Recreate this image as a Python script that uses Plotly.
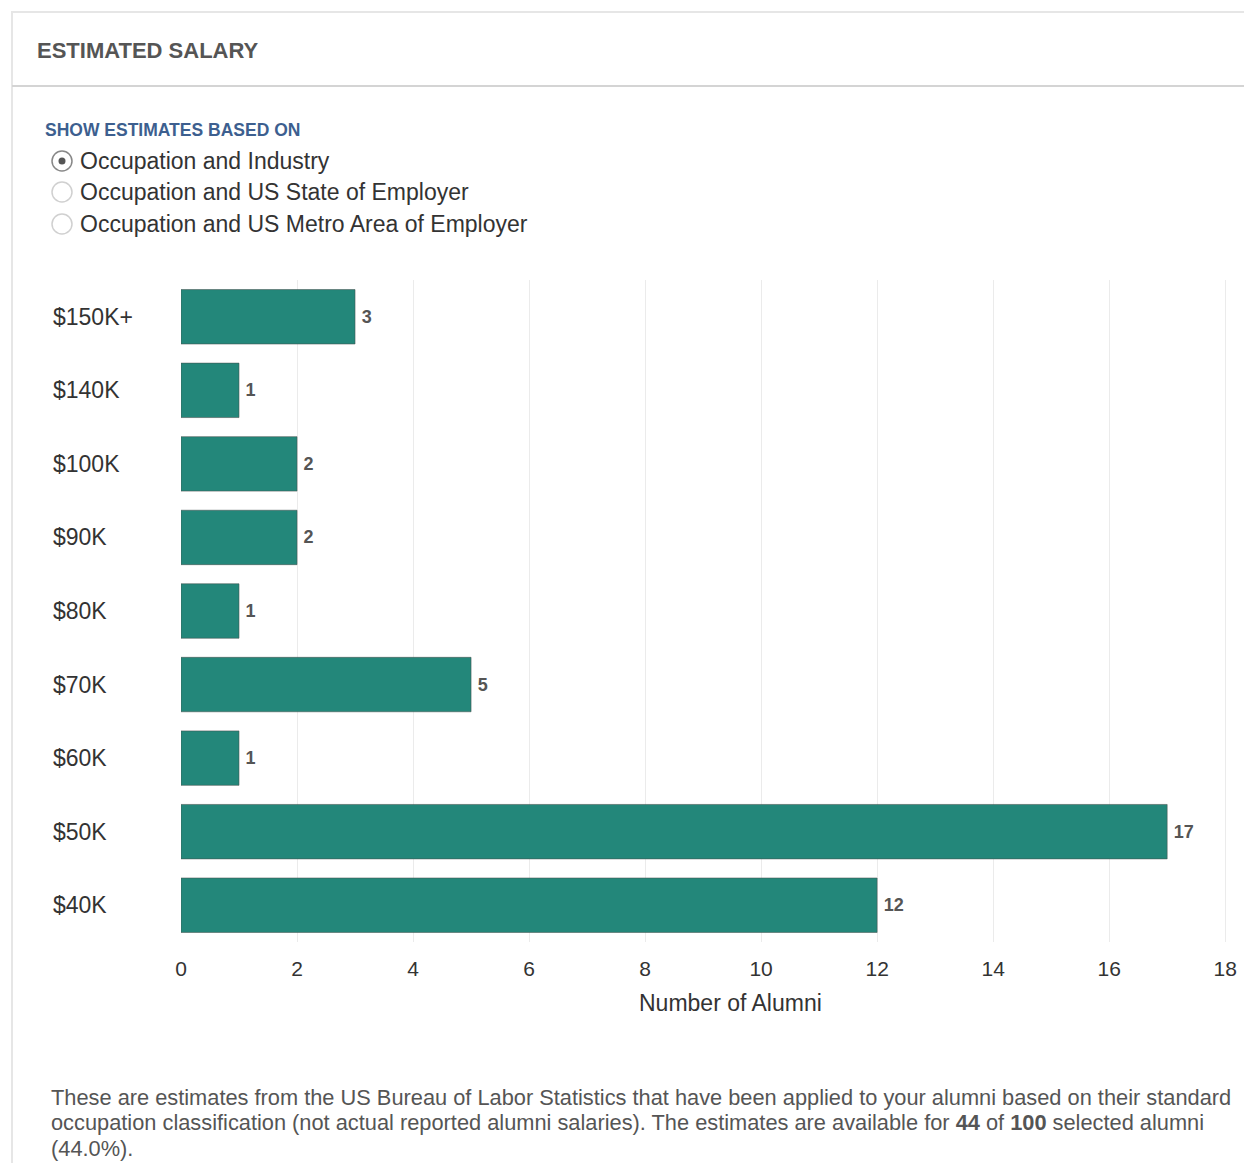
import plotly.graph_objects as go

categories = ["$150K+", "$140K", "$100K", "$90K", "$80K", "$70K", "$60K", "$50K", "$40K"]
alumni_counts = [3, 1, 2, 2, 1, 5, 1, 17, 12]
x_ticks = [0, 2, 4, 6, 8, 10, 12, 14, 16, 18]
radio_options = ["Occupation and Industry", "Occupation and US State of Employer",
                 "Occupation and US Metro Area of Employer"]
footnote_lines = [
    "These are estimates from the US Bureau of Labor Statistics that have been applied to your alumni based on their standard",
    "occupation classification (not actual reported alumni salaries). The estimates are available for <b>44</b> of <b>100</b> selected alumni",
    "(44.0%).",
]

W, H = 1244, 1163
L, R, T, B = 181, 1242, 280, 942
FONT = "Liberation Sans, Arial, sans-serif"


def px(x):
    return (x - L) / (R - L)


def py(y):
    return (B - y) / (B - T)


fig = go.Figure(go.Bar(
    x=alumni_counts, y=categories, orientation="h",
    marker=dict(color="#23877a", line=dict(color="rgba(70,80,78,0.55)", width=1)),
    text=alumni_counts, texttemplate="\u2009%{text}", textposition="outside", cliponaxis=False,
    textfont=dict(family=FONT, size=18, color="#555", weight="bold"),
    hoverinfo="x+y",
))

shapes = [
    dict(type="rect", xref="paper", yref="paper", x0=px(12), x1=px(1270), y0=py(12), y1=py(1190),
         line=dict(color="#e6e6e6", width=2), fillcolor="rgba(0,0,0,0)", layer="below"),
    dict(type="line", xref="paper", yref="paper", x0=px(12), x1=px(1250), y0=py(86), y1=py(86),
         line=dict(color="#d4d4d4", width=2)),
]
radio_y = [161, 192, 224]
annotations = [
    dict(text="<b>ESTIMATED SALARY</b>", xref="paper", yref="paper", x=px(35), y=py(51),
         xanchor="left", yanchor="middle", showarrow=False,
         font=dict(family=FONT, size=22, color="#555")),
    dict(text="<b>SHOW ESTIMATES BASED ON</b>", xref="paper", yref="paper", x=px(43), y=py(130),
         xanchor="left", yanchor="middle", showarrow=False,
         font=dict(family=FONT, size=17.5, color="#3d5f8f")),
]
for i, (opt, yy) in enumerate(zip(radio_options, radio_y)):
    annotations.append(dict(text=opt, xref="paper", yref="paper", x=px(78), y=py(yy),
                            xanchor="left", yanchor="middle", showarrow=False,
                            font=dict(family=FONT, size=23, color="#333")))
    shapes.append(dict(type="circle", xref="paper", yref="paper",
                       x0=px(52), x1=px(72), y0=py(yy - 10), y1=py(yy + 10),
                       line=dict(color="#888" if i == 0 else "#d0d0d0", width=1.5),
                       fillcolor="white"))
    if i == 0:
        shapes.append(dict(type="circle", xref="paper", yref="paper",
                           x0=px(58.5), x1=px(65.5), y0=py(yy - 3.5), y1=py(yy + 3.5),
                           line=dict(color="#555", width=0), fillcolor="#555"))

for cat in categories:
    annotations.append(dict(text=cat, xref="paper", yref="y", x=px(51), y=cat,
                            xanchor="left", yanchor="middle", showarrow=False,
                            font=dict(family=FONT, size=23, color="#333")))

annotations.append(dict(text="Number of Alumni", xref="paper", yref="paper", x=px(730), y=py(1003),
                        xanchor="center", yanchor="middle", showarrow=False,
                        font=dict(family=FONT, size=23, color="#333")))

for line, yy in zip(footnote_lines, [1097, 1122, 1148]):
    annotations.append(dict(text=line, xref="paper", yref="paper", x=px(49), y=py(yy),
                            xanchor="left", yanchor="middle", showarrow=False,
                            font=dict(family=FONT, size=21.8, color="#555")))

fig.update_layout(
    width=W, height=H,
    margin=dict(l=L, r=W - R, t=T, b=H - B),
    paper_bgcolor="white", plot_bgcolor="white",
    showlegend=False, bargap=0.26,
    font=dict(family=FONT, color="#333"),
    xaxis=dict(range=[0, 18.29], tickvals=x_ticks, showgrid=True, gridcolor="#ebebeb", gridwidth=1,
               zeroline=False, showline=False, ticks="", ticklabelstandoff=12,
               tickfont=dict(family=FONT, size=21, color="#333")),
    yaxis=dict(autorange="reversed", showticklabels=False, showgrid=False, zeroline=False,
               showline=False, ticks=""),
    shapes=shapes, annotations=annotations,
)

fig.write_html("out.html")
